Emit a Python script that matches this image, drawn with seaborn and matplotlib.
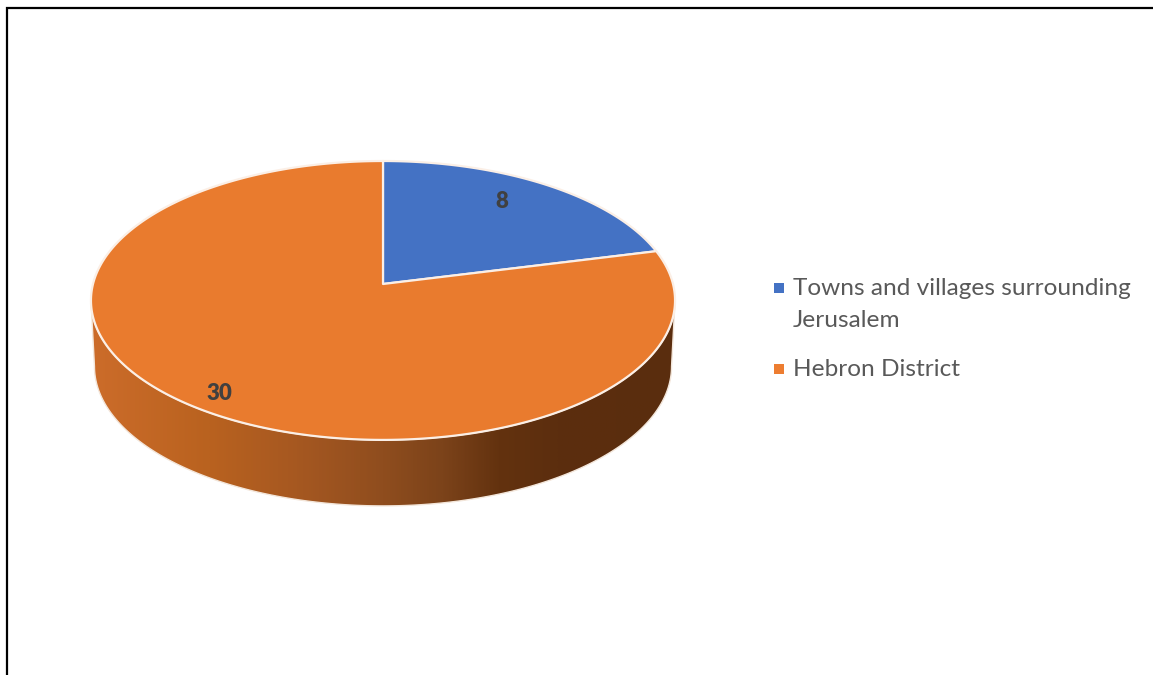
import numpy as np
import matplotlib
matplotlib.use('Agg')
import matplotlib.pyplot as plt
from matplotlib.colors import LinearSegmentedColormap
from matplotlib.patches import Polygon
import seaborn as sns

categories = ['Towns and villages surrounding\nJerusalem', 'Hebron District']
values = [8, 30]
slice_colors = ['#4472C4', '#E97B2E']
legend_colors = ['#4472C4', '#ED7D31']
wall_colors = ['#CC6C2A', '#B9621F', '#A65821', '#8F4D1E', '#7C431A', '#63320F', '#5C2E0E', '#5A2D0E']
wall_stops = [0.0, 0.2, 0.35, 0.5, 0.6, 0.7, 0.8, 1.0]

sns.set_theme(style='white')
plt.rcParams['font.family'] = ['Lato', 'DejaVu Sans']

# picture geometry of the tilted pie, in pixels
CX, K, A, B, C = 383, 0.118, 290, 104, 284
DROP, SHRINK = 66, 288.5 / 292


def project(theta):
    # theta runs clockwise from 12 o'clock on the flat pie
    u, v = np.sin(theta), np.cos(theta)
    den = 1 + K * v
    return CX + A * u / den, (C - B * v) / den


def lower_rim(theta):
    x, y = project(theta)
    return CX + (x - CX) * SHRINK, y + DROP


fig = plt.figure(figsize=(11.53, 6.75), dpi=100)
ax = fig.add_axes([0, 0, 1, 1])
ax.set_xlim(0, 1153)
ax.set_ylim(675, 0)
ax.axis('off')

# frame cut off on the right and bottom
ax.plot([6.5, 6.5, 1153], [675, 7.5, 7.5], color='black', lw=1.6, solid_joinstyle='miter')

# side wall, runs between the widest points of the rim
tilt = np.arcsin(K)
front = np.linspace(np.pi / 2 + tilt, 3 * np.pi / 2 - tilt, 240)
tx, ty = project(front)
bx, by = lower_rim(front)
wall_xy = np.column_stack([np.r_[tx, bx[::-1]], np.r_[ty, by[::-1]]])
cmap = LinearSegmentedColormap.from_list('wall', list(zip(wall_stops, wall_colors)))
grad = ax.imshow(np.linspace(0, 1, 400).reshape(1, -1), cmap=cmap, vmin=0, vmax=1, aspect='auto',
                 extent=(tx.min(), tx.max(), by.max(), ty.min()), zorder=1)
outline = Polygon(wall_xy, closed=True, fill=False, edgecolor='#F3E6DA', lw=1.0, zorder=2)
ax.add_patch(outline)
grad.set_clip_path(outline)
ax.set_xlim(0, 1153)
ax.set_ylim(675, 0)

# top face
edges = np.r_[0, np.cumsum(values)] / np.sum(values) * 2 * np.pi
for i in range(len(values)):
    th = np.linspace(edges[i], edges[i + 1], 300)
    x, y = project(th)
    ax.fill(np.r_[CX, x], np.r_[C, y], facecolor=slice_colors[i],
            edgecolor='#FBEFE6', lw=1.6, joinstyle='round', zorder=3)

# data labels
ax.text(502, 201, str(values[0]), ha='center', va='center', fontsize=16, fontweight='heavy', color='#404040', zorder=4)
ax.text(219, 393, str(values[1]), ha='center', va='center', fontsize=16, fontweight='heavy', color='#404040', zorder=4)

# legend
for name, col, y_mark, y_text in zip(categories, legend_colors, [288, 368.5], [304.5, 370]):
    ax.scatter([779], [y_mark], marker='s', s=58, color=col, linewidths=0, zorder=4)
    ax.text(793, y_text, name, ha='left', va='center', fontsize=17.6, color='#595959', linespacing=1.66)

fig.savefig('out.png', dpi=100)
plt.close(fig)
